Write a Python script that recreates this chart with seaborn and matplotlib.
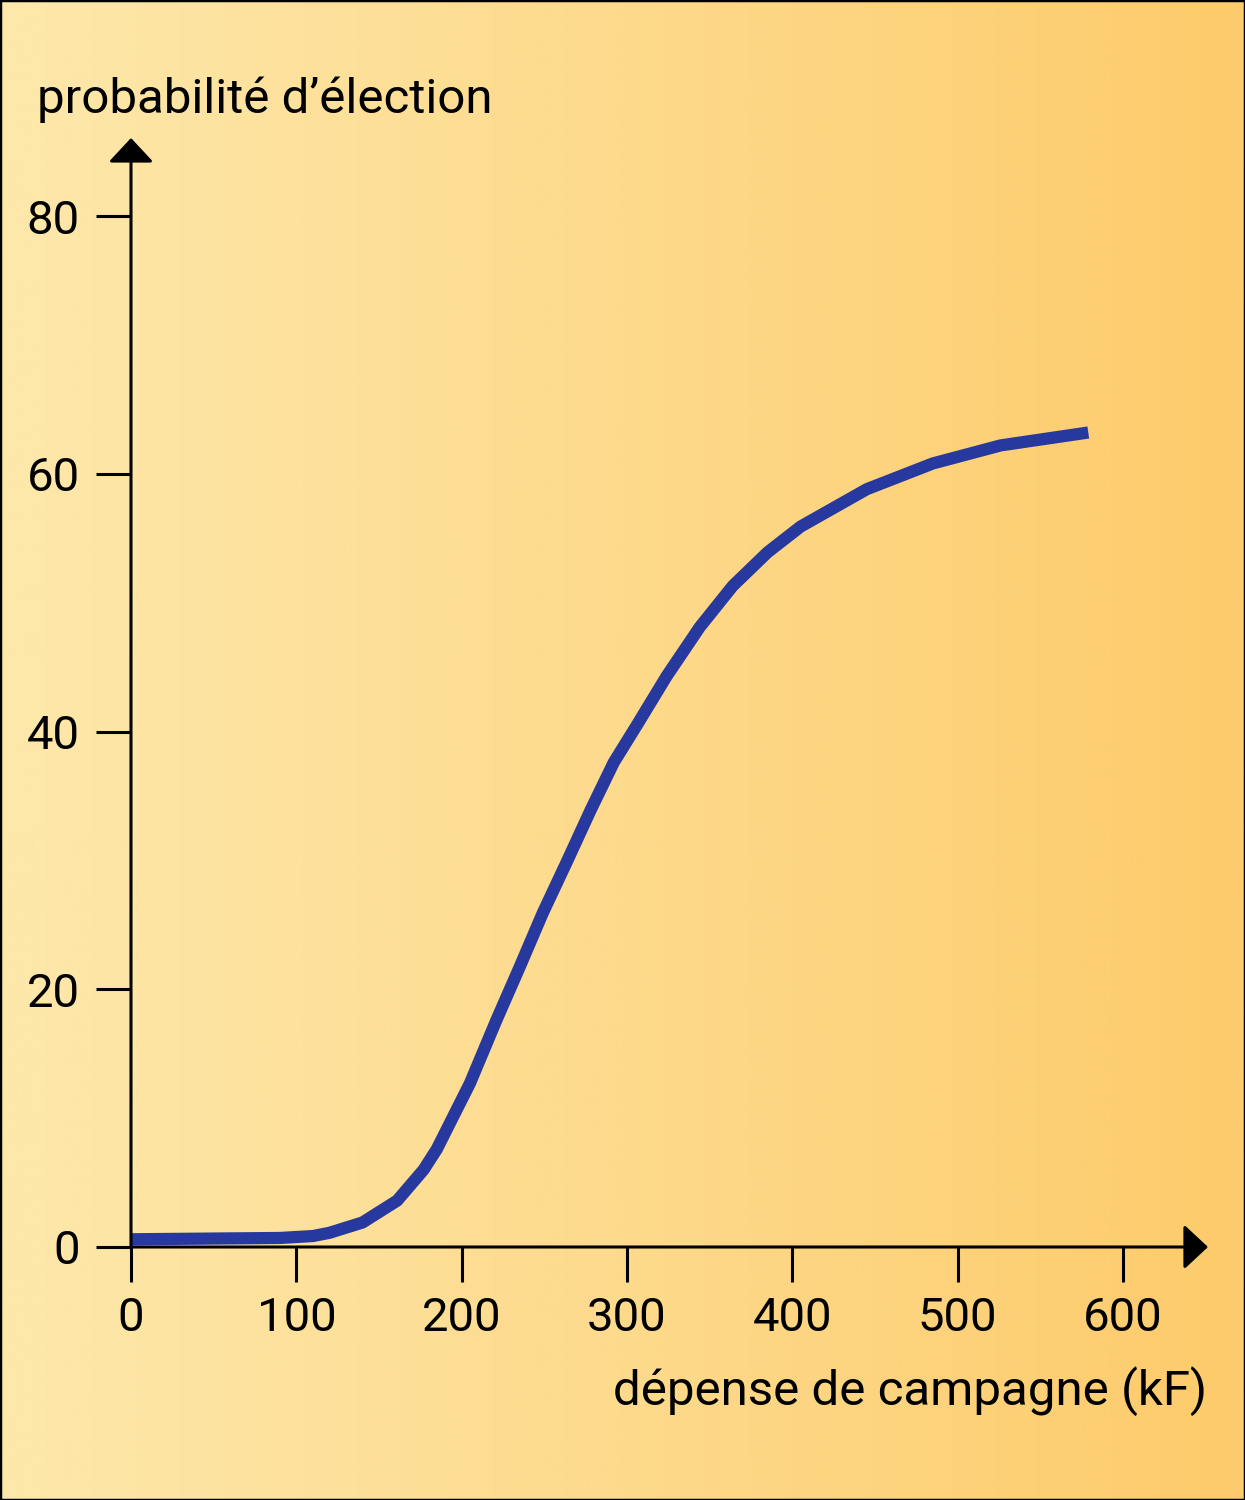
import numpy as np
import pandas as pd
import matplotlib
matplotlib.use("Agg")
import matplotlib.pyplot as plt
import seaborn as sns
from matplotlib.patches import Rectangle
from matplotlib.colors import LinearSegmentedColormap

# ---- data ----
depense = [0, 90, 110, 120, 140, 161, 177, 185, 205, 221, 235, 249, 264, 278,
           292, 306, 324, 344, 364, 385, 405, 445, 485, 526, 579]
probabilite = [0.6, 0.7, 0.85, 1.1, 1.9, 3.6, 6.0, 7.6, 12.7, 17.6, 21.7, 25.9,
               30.0, 33.9, 37.6, 40.5, 44.3, 48.1, 51.3, 53.9, 55.9, 58.8, 60.8,
               62.2, 63.2]
x_ticks = [0, 100, 200, 300, 400, 500, 600]
y_ticks = [0, 20, 40, 60, 80]
x_label = "dépense de campagne (kF)"
y_label = "probabilité d’élection"

df = pd.DataFrame({"x": depense, "y": probabilite})

sns.set_theme(style="white")
plt.rcParams["font.family"] = ["Roboto", "DejaVu Sans"]

W, H = 1245, 1500
fig = plt.figure(figsize=(W / 100, H / 100), dpi=100)

# background gradient
bg = fig.add_axes([0, 0, 1, 1], zorder=-10)
cmap = LinearSegmentedColormap.from_list("bg", ["#FDE8AB", "#FDDA8C", "#FDCB6B"])
grad = np.linspace(0, 1, 512).reshape(1, -1)
bg.imshow(grad, aspect="auto", cmap=cmap, extent=[0, 1, 0, 1])
bg.set_axis_off()
bg.add_patch(Rectangle((0, 0), 1, 1, transform=bg.transAxes, fill=False,
                       edgecolor="black", lw=2.5, clip_on=False))

# main axes: x 0 at px 131, 600 at px 1123 ; y 0 at px 1247, 80 at px 216
px_per_x = (1123 - 131) / 600
px_per_y = (1247 - 216) / 80
xmax = (1208 - 131) / px_per_x
ymax = (1247 - 138) / px_per_y
left = 131 / W
bottom = 1 - 1247 / H
ax = fig.add_axes([left, bottom, xmax * px_per_x / W, ymax * px_per_y / H])
ax.patch.set_alpha(0)

sns.lineplot(data=df, x="x", y="y", ax=ax, color="#27399E", lw=8.8,
             solid_capstyle="butt", solid_joinstyle="round",
             clip_on=False, zorder=3)

ax.set_xlim(0, xmax)
ax.set_ylim(0, ymax)
for s in ax.spines.values():
    s.set_visible(False)

ax.set_xticks(x_ticks)
ax.set_yticks(y_ticks)
ax.set_xticklabels([str(v) for v in x_ticks])
ax.set_yticklabels([str(v) for v in y_ticks])
ax.tick_params(axis="both", which="major", direction="out", length=25,
               width=2.2, color="black", labelsize=34, labelcolor="black")
ax.tick_params(axis="x", pad=10, bottom=True)
ax.tick_params(axis="y", pad=12, left=True)
ax.set_xlabel("")
ax.set_ylabel("")

arrow_kw = dict(arrowstyle="-|>,head_length=0.75,head_width=0.7", lw=2.2,
                color="black", mutation_scale=20, shrinkA=0, shrinkB=0)
ax.annotate("", xy=(1, 0), xytext=(0, 0), xycoords="axes fraction",
            textcoords="axes fraction", arrowprops=arrow_kw, zorder=4)
ax.annotate("", xy=(0, 1), xytext=(0, 0), xycoords="axes fraction",
            textcoords="axes fraction", arrowprops=arrow_kw, zorder=4)

fig.text(37 / W, 1 - 113 / H, y_label, fontsize=35.5, ha="left", va="baseline",
         color="black")
fig.text(1207 / W, 1 - 1405 / H, x_label, fontsize=35.5, ha="right",
         va="baseline", color="black")

fig.savefig("out.png", dpi=100)
